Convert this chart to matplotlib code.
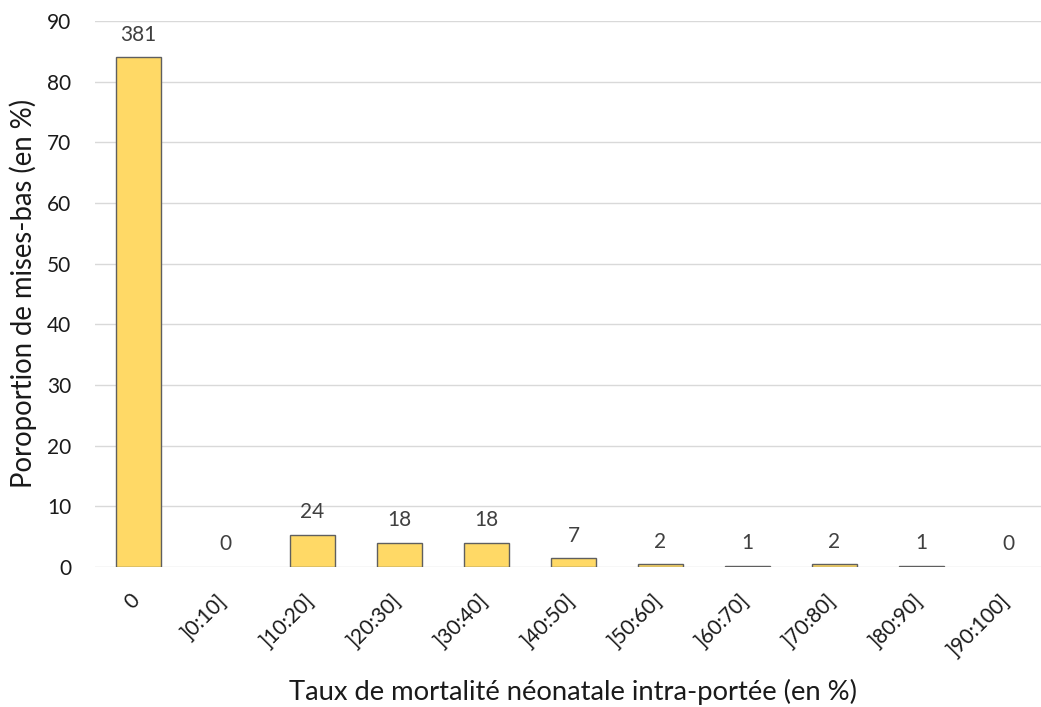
import numpy as np
import matplotlib
matplotlib.use("Agg")
import matplotlib.pyplot as plt
import matplotlib.transforms as mtransforms

# données -------------------------------------------------------------------
classes = ["0", "]0:10]", "]10:20]", "]20:30]", "]30:40]", "]40:50]",
           "]50:60]", "]60:70]", "]70:80]", "]80:90]", "]90:100]"]
proportions = [84.0, 0.0, 5.3, 3.95, 3.95, 1.45, 0.44, 0.22, 0.44, 0.22, 0.0]
effectifs = [381, 0, 24, 18, 18, 7, 2, 1, 2, 1, 0]
yticks = [0, 10, 20, 30, 40, 50, 60, 70, 80, 90]
titre_x = "Taux de mortalité néonatale intra-portée (en %)"
titre_y = "Poroportion de mises-bas (en %)"

plt.rcParams["font.family"] = ["Lato", "DejaVu Sans"]

W, H = 1041, 707
fig = plt.figure(figsize=(W / 100, H / 100), dpi=100, facecolor="white")
# axes en pixels : gauche 95, droite 1052 (coupé a droite), y=0 a 567, y=90 a 21
ax = fig.add_axes([95 / W, 1 - 567 / H, (1052 - 95) / W, (567 - 21) / H])

x = np.arange(len(classes))
barres = ax.bar(x, proportions, width=0.51, color="#FFD966", edgecolor="#5f5f5f",
                linewidth=1.0, zorder=3)
for b, v in zip(barres, proportions):
    if v == 0:
        b.set_linewidth(0)

for xi, v, n in zip(x, proportions, effectifs):
    ax.annotate(str(n), (xi, v), xytext=(0, 12), textcoords="offset points",
                ha="center", va="baseline", fontsize=15, color="#404040")

ax.set_xlim(-0.5, len(classes) - 0.5)
ax.set_ylim(0, 90)
ax.set_yticks(yticks)
ax.yaxis.grid(True, color="#d9d9d9", linewidth=1.0, zorder=0)
ax.set_axisbelow(True)
for s in ["top", "right", "left", "bottom"]:
    ax.spines[s].set_visible(False)

ax.tick_params(axis="y", length=0, pad=17, labelsize=15, labelcolor="#1a1a1a")
ax.tick_params(axis="x", length=0, pad=17, labelsize=15, labelcolor="#1a1a1a")
ax.set_xticks(x)
ax.set_xticklabels(classes, rotation=45, ha="right", va="top")
decal = mtransforms.ScaledTranslation(5 / 100, 0, fig.dpi_scale_trans)
for lab in ax.get_xticklabels():
    lab.set_transform(lab.get_transform() + decal)

tx = fig.text(573 / W, 1 - 700 / H, titre_x, ha="center", va="baseline",
              fontsize=20, color="#1a1a1a")
ty = fig.text(23 / W, 1 - 293 / H, titre_y, ha="center", va="center",
              rotation=90, fontsize=20, color="#1a1a1a")

# ajuste la taille des titres sur la largeur mesurée dans l'image
rend = fig.canvas.get_renderer()
for t, cible, axe in [(tx, 570, "w"), (ty, 390, "h")]:
    bb = t.get_window_extent(rend)
    larg = bb.width if axe == "w" else bb.height
    t.set_fontsize(t.get_fontsize() * cible / larg)

fig.savefig("out.png", dpi=100, facecolor="white")
